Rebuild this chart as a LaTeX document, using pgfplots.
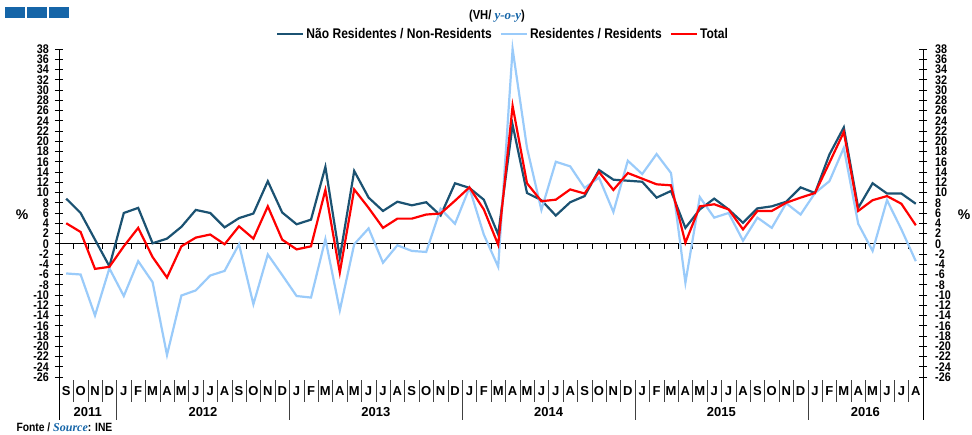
\documentclass[border=0pt]{standalone}
\usepackage{fontspec}
\setmainfont{Liberation Sans}
\newfontfamily\nf{Liberation Sans}[FakeStretch=0.86]
\newfontfamily\serifit{Liberation Serif}
\usepackage{pgfplots}
\usepackage{pgfplotstable}
\pgfplotsset{compat=1.18}
\definecolor{nonres}{HTML}{1B5272}
\definecolor{res}{HTML}{9ACBFA}
\definecolor{tot}{HTML}{FF0000}
\definecolor{hdrblue}{HTML}{1565A8}

% monthly y-o-y change, Sep 2011 - Aug 2016
\pgfplotstableread{
i  nonres  res    total
0   8.8   -5.8    4.0
1   6.0   -6.0    2.3
2   0.8  -14.0   -4.9
3  -4.4   -4.8   -4.5
4   6.0  -10.2   -0.5
5   7.0   -3.4    3.1
6   0.1   -7.5   -2.6
7   1.0  -21.7   -6.6
8   3.3  -10.1   -0.5
9   6.6   -9.1    1.2
10  6.0   -6.2    1.8
11  3.2   -5.3   -0.1
12  5.0   -0.1    3.4
13  5.9  -11.8    1.0
14 12.2   -2.1    7.3
15  6.1   -6.1    0.8
16  3.8  -10.2   -1.1
17  4.7  -10.5   -0.5
18 15.0    0.9   10.5
19 -2.7  -13.0   -5.6
20 14.2   -0.1   10.6
21  9.0    3.0    7.0
22  6.4   -3.7    3.1
23  8.2   -0.3    4.9
24  7.5   -1.4    4.9
25  8.1   -1.6    5.7
26  5.5    6.8    5.9
27 11.8    3.9    8.4
28 10.9   10.9   11.0
29  8.6    1.8    6.7
30  1.8   -4.5   -0.2
31 23.2   38.0   26.9
32  9.9   18.7   11.8
33  8.5    6.6    8.3
34  5.5   16.0    8.6
35  8.1   15.1   10.6
36  9.3   10.9    9.8
37 14.4   12.9   14.0
38 12.5    6.2   10.5
39 12.3   16.2   13.8
40 12.1   13.6   12.7
41  9.0   17.5   11.6
42 10.3   13.8   11.4
43  3.1   -7.6    0.2
44  6.7    9.1    7.3
45  8.8    5.1    7.7
46  6.7    6.0    6.7
47  4.1    0.6    2.8
48  6.9    5.1    6.4
49  7.3    3.1    6.4
50  8.2    7.9    8.0
51 11.0    5.7    9.0
52  9.9    9.9    9.9
53 17.4   12.2   15.8
54 22.7   18.7   21.8
55  7.0    3.9    6.4
56 11.8   -1.4    8.5
57  9.8    8.5    9.3
58  9.8    2.8    7.8
59  7.8   -3.4    3.6
}\data

\begin{document}
\begin{tikzpicture}
\path[use as bounding box] (0pt,0pt) rectangle (972pt,434pt);

\pgfplotsset{
  common/.style={
    at={(59pt,57pt)}, anchor=south west, scale only axis,
    width=864pt, height=328pt,
    xmin=-0.5, xmax=59.5, ymin=-26, ymax=38,
    ytick={-26,-24,...,38},
    yticklabel={\pgfmathparse{int(\tick)}\pgfmathresult},
    tick align=center, major tick length=8pt,
    tick style={black, line width=0.6pt},
    axis line style={black, line width=0.8pt},
    clip=false,
  }
}

\begin{axis}[common,
  axis y line*=left, axis x line*=bottom,
  yticklabel style={font=\nf\bfseries\fontsize{12.5}{12.5}\selectfont, inner sep=0pt, xshift=-6pt},
  x axis line style={draw=none},
  xtick={0,...,59}, major x tick style={draw=none},
  xticklabels={S,O,N,D,J,F,M,A,M,J,J,A,S,O,N,D,J,F,M,A,M,J,J,A,S,O,N,D,J,F,M,A,M,J,J,A,S,O,N,D,J,F,M,A,M,J,J,A,S,O,N,D,J,F,M,A,M,J,J,A},
  xticklabel style={font=\bfseries\fontsize{13}{13}\selectfont, yshift=-2pt},
  legend style={at={(axis description cs:0.514,1.046)}, anchor=center,
    draw=none, fill=none, legend columns=3,
    font=\nf\bfseries\fontsize{14}{14}\selectfont,
    /tikz/every even column/.append style={column sep=6pt}},
  legend image code/.code={\draw[#1] (0pt,0pt) -- (26pt,0pt);},
]
\draw[black, line width=0.8pt] (axis cs:-0.5,0) -- (axis cs:59.5,0);
\pgfplotsinvokeforeach{0.5,1.5,...,58.5}{
  \draw[black, line width=0.6pt] (axis cs:#1,0) -- ++(0pt,-5pt);
  \draw[black!75, line width=0.6pt] (axis cs:#1,-26.6) -- (axis cs:#1,-30.9);
}
\pgfplotsinvokeforeach{3.5,15.5,27.5,39.5,51.5}{
  \draw[black!75, line width=0.6pt] (axis cs:#1,-30.9) -- (axis cs:#1,-34.4);
}
\draw[black, line width=0.8pt] (axis cs:-0.5,-26) -- (axis cs:-0.5,-34.4);
\draw[black, line width=0.8pt] (axis cs:59.5,-26) -- (axis cs:59.5,-34.4);

\addplot[nonres, line width=2.2pt] table[x=i, y=nonres] {\data};
\addlegendentry{Não Residentes / Non-Residents}
\addplot[res, line width=2.2pt] table[x=i, y=res] {\data};
\addlegendentry{Residentes / Residents}
\addplot[tot, line width=2.2pt] table[x=i, y=total] {\data};
\addlegendentry{Total}

\begin{scope}[font=\bfseries\fontsize{13}{13}\selectfont]
\node at (axis cs:1.5,-32.9) {2011};
\node at (axis cs:9.5,-32.9) {2012};
\node at (axis cs:21.5,-32.9) {2013};
\node at (axis cs:33.5,-32.9) {2014};
\node at (axis cs:45.5,-32.9) {2015};
\node at (axis cs:55.5,-32.9) {2016};
\end{scope}
\end{axis}

\begin{axis}[common,
  axis y line*=right, axis x line=none,
  yticklabel pos=right,
  yticklabel style={font=\nf\bfseries\fontsize{12.5}{12.5}\selectfont, inner sep=0pt, xshift=8pt},
]
\end{axis}

% decorations outside the axes
\fill[hdrblue] (5pt,416pt) rectangle (25pt,427pt);
\fill[hdrblue] (27pt,416pt) rectangle (47pt,427pt);
\fill[hdrblue] (49pt,416pt) rectangle (69pt,427pt);
\node[font=\nf\bfseries\fontsize{13}{13}\selectfont, anchor=center] at (497pt,418pt)
  {(VH/ {\color{hdrblue}\serifit\bfseries\itshape y-o-y})};
\node[font=\bfseries\fontsize{14}{14}\selectfont] at (22pt,219pt) {\%};
\node[font=\bfseries\fontsize{14}{14}\selectfont] at (964pt,219pt) {\%};
\node[font=\nf\bfseries\fontsize{12}{12}\selectfont, anchor=west] at (13pt,7pt)
  {Fonte / {\color{hdrblue}\serifit\bfseries\itshape Source}: INE};
\end{tikzpicture}
\end{document}
